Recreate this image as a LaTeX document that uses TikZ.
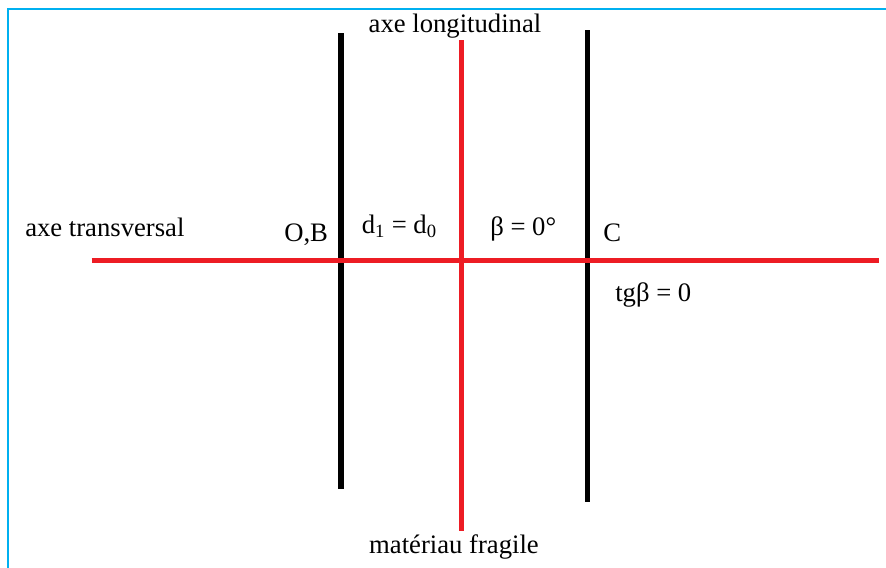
\documentclass[tikz,border=0pt]{standalone}
\usepackage{fontspec}
\setmainfont{Liberation Serif}
\definecolor{cadreblue}{RGB}{0,176,240}
\definecolor{axered}{RGB}{237,28,36}

\begin{document}
\begin{tikzpicture}[x=0.75pt,y=-0.75pt,
  axe/.style={line width=3.9pt, axered},
  bord/.style={line width=3.9pt, black},
  lbl/.style={inner sep=0pt, font=\fontsize{20}{24}\selectfont}]
\useasboundingbox (0,0) rectangle (886,568);
\clip (0,0) rectangle (886,568);
\draw[line width=1.5pt, cadreblue] (8.3,9) rectangle (930,610);
% ends of the lines
\coordinate (trG) at (91.7,260.5);
\coordinate (trD) at (879,260.5);
\coordinate (loH) at (461.3,40);
\coordinate (loB) at (461.3,531);
\coordinate (obH) at (341,33.3);
\coordinate (obB) at (341,489);
\coordinate (cH) at (587.5,30);
\coordinate (cB) at (587.5,502);
\draw[bord] (obH) -- (obB);
\draw[bord] (cH) -- (cB);
\draw[axe] (trG) -- (trD);
\draw[axe] (loH) -- (loB);
% labels
\node[lbl, anchor=base] (axelong) at (455,32) {axe longitudinal};
\node[lbl, anchor=base west] (axetrans) at (25,236.5) {axe transversal};
\node[lbl, anchor=base west] (ob) at (284,241) {O,B};
\node[lbl, anchor=base west] (dd) at (361.5,233.5) {d\textsubscript{1} = d\textsubscript{0}};
\node[lbl, anchor=base west] (beta) at (490,235) {β = 0°};
\node[lbl, anchor=base west] (c) at (603,241) {C};
\node[lbl, anchor=base west] (tgb) at (615,301.5) {tgβ = 0};
\node[lbl, anchor=base] (mat) at (454,553) {matériau fragile};
\end{tikzpicture}
\end{document}
